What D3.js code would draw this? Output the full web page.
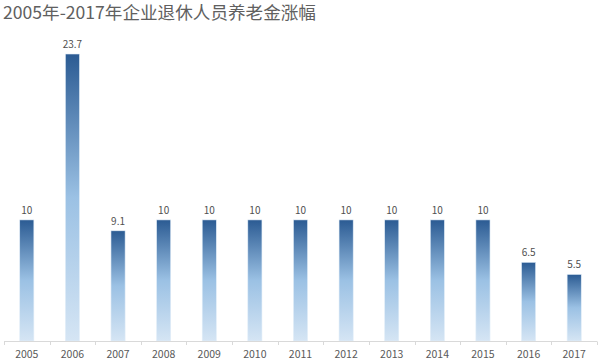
<!DOCTYPE html>
<html>
<head>
<meta charset="utf-8">
<script src="https://cdn.jsdelivr.net/npm/d3@7"></script>
<style>
  body { margin: 0; background: #fff; }
  svg { display: block; font-family: "Noto Sans CJK SC", "Open Sans", sans-serif; }
</style>
</head>
<body>
<svg id="chart"></svg>
<script>
var years = ["2005","2006","2007","2008","2009","2010","2011","2012","2013","2014","2015","2016","2017"];
var values = [10, 23.7, 9.1, 10, 10, 10, 10, 10, 10, 10, 10, 6.5, 5.5];
var labels = ["10","23.7","9.1","10","10","10","10","10","10","10","10","6.5","5.5"];
var title = "2005年-2017年企业退休人员养老金涨幅";

var width = 600, height = 361;
var svg = d3.select("#chart").attr("width", width).attr("height", height);

var x = d3.scaleBand().domain(years).range([4, 597]).paddingInner(0.69).paddingOuter(0.345);
var y = d3.scaleLinear().domain([0, 23.7]).range([341, 54]);

// gradient per bar, dark top to light bottom
var defs = svg.append("defs");
var grad = defs.append("linearGradient").attr("id", "barGrad")
    .attr("x1", 0).attr("y1", 0).attr("x2", 0).attr("y2", 1);
grad.append("stop").attr("offset", "0%").attr("stop-color", "#2b5b93");
grad.append("stop").attr("offset", "50%").attr("stop-color", "#9bc1e4");
grad.append("stop").attr("offset", "100%").attr("stop-color", "#d5e5f4");

svg.append("text")
    .attr("x", 3).attr("y", 19)
    .attr("font-size", 17.6)
    .attr("fill", "#606060")
    .text(title);

svg.selectAll("rect.bar")
    .data(values)
    .enter().append("rect")
    .attr("class", "bar")
    .attr("x", function(d, i){ return x(years[i]); })
    .attr("y", function(d){ return y(d); })
    .attr("width", x.bandwidth())
    .attr("height", function(d){ return y(0) - y(d); })
    .attr("fill", "url(#barGrad)")
    .attr("stroke", "#e3eef8")
    .attr("stroke-width", 0.6);

svg.selectAll("text.val")
    .data(values)
    .enter().append("text")
    .attr("class", "val")
    .attr("x", function(d, i){ return x(years[i]) + x.bandwidth() / 2; })
    .attr("y", function(d){ return y(d) - 6; })
    .attr("text-anchor", "middle")
    .attr("font-size", 10)
    .attr("fill", "#505050")
    .text(function(d, i){ return labels[i]; });

// axis: baseline with ticks between categories
var axis = svg.append("g");
axis.append("line")
    .attr("x1", 4).attr("x2", 597)
    .attr("y1", 341.5).attr("y2", 341.5)
    .attr("stroke", "#d9d9d9");
var step = x.step();
var bounds = d3.range(years.length + 1).map(function(i){ return 4 + i * step; });
axis.selectAll("line.tick")
    .data(bounds)
    .enter().append("line")
    .attr("class", "tick")
    .attr("x1", function(d){ return Math.round(d) + 0.5; })
    .attr("x2", function(d){ return Math.round(d) + 0.5; })
    .attr("y1", 341.5).attr("y2", 345)
    .attr("stroke", "#d9d9d9");
axis.selectAll("text")
    .data(years)
    .enter().append("text")
    .attr("x", function(d){ return x(d) + x.bandwidth() / 2; })
    .attr("y", 358)
    .attr("text-anchor", "middle")
    .attr("font-size", 10.5)
    .attr("fill", "#595959")
    .text(function(d){ return d; });
</script>
</body>
</html>
